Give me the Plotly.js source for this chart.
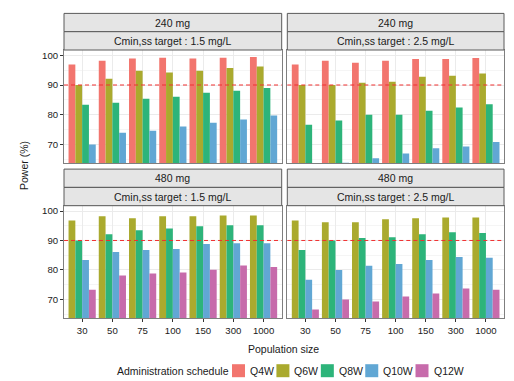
<!DOCTYPE html>
<html>
<head>
<meta charset="utf-8">
<script src="https://cdn.plot.ly/plotly-3.0.1.min.js"></script>
<style>html,body{margin:0;padding:0;background:#fff;}#chart{width:514px;height:381px;}</style>
</head>
<body>
<div id="chart"></div>
<script>
// ---- data ----
const populations = ['30', '50', '75', '100', '150', '300', '1000'];
const schedules = ['Q4W', 'Q6W', 'Q8W', 'Q10W', 'Q12W'];
const doses = ['240 mg', '240 mg', '480 mg', '480 mg'];
const targets = ['Cmin,ss target : 1.5 mg/L', 'Cmin,ss target : 2.5 mg/L', 'Cmin,ss target : 1.5 mg/L', 'Cmin,ss target : 2.5 mg/L'];
const thresholdPower = 90;

// 240 mg, target 1.5 mg/L
const p240_15_Q4W  = [96.9, 98.2, 98.9, 99.2, 98.9, 99.2, 99.4];
const p240_15_Q6W  = [90.0, 92.1, 94.8, 94.2, 94.8, 95.7, 96.2];
const p240_15_Q8W  = [83.3, 84.0, 85.4, 86.0, 87.4, 88.1, 89.0];
const p240_15_Q10W = [69.9, 73.9, 74.6, 76.0, 77.3, 78.4, 79.7];
// 240 mg, target 2.5 mg/L
const p240_25_Q4W  = [96.9, 98.2, 97.5, 98.2, 98.8, 98.8, 99.1];
const p240_25_Q6W  = [90.0, 90.0, 90.8, 91.1, 92.8, 93.1, 93.9];
const p240_25_Q8W  = [76.6, 78.0, 80.0, 80.0, 81.3, 82.4, 83.5];
const p240_25_Q10W = [62.0, 63.8, 65.3, 66.9, 68.7, 69.3, 70.8];
// 480 mg, target 1.5 mg/L
const p480_15_Q6W  = [96.8, 98.2, 97.5, 98.2, 98.2, 98.5, 98.5];
const p480_15_Q8W  = [90.0, 92.1, 93.5, 94.1, 94.8, 95.2, 95.2];
const p480_15_Q10W = [83.4, 86.1, 86.8, 87.1, 88.8, 89.1, 89.1];
const p480_15_Q12W = [73.3, 78.1, 78.8, 79.1, 80.1, 81.5, 81.0];
// 480 mg, target 2.5 mg/L
const p480_25_Q6W  = [96.8, 96.2, 96.2, 97.2, 97.5, 97.8, 97.8];
const p480_25_Q8W  = [86.8, 90.0, 90.8, 91.1, 92.1, 92.8, 92.5];
const p480_25_Q10W = [76.7, 80.0, 81.4, 82.0, 83.4, 84.4, 84.1];
const p480_25_Q12W = [66.6, 70.0, 69.3, 71.0, 72.0, 73.7, 73.3];

const panels = [
  {Q4W: p240_15_Q4W, Q6W: p240_15_Q6W, Q8W: p240_15_Q8W, Q10W: p240_15_Q10W},
  {Q4W: p240_25_Q4W, Q6W: p240_25_Q6W, Q8W: p240_25_Q8W, Q10W: p240_25_Q10W},
  {Q6W: p480_15_Q6W, Q8W: p480_15_Q8W, Q10W: p480_15_Q10W, Q12W: p480_15_Q12W},
  {Q6W: p480_25_Q6W, Q8W: p480_25_Q8W, Q10W: p480_25_Q10W, Q12W: p480_25_Q12W}
];

// ---- styles ----
const schedColors = {Q4W: '#F2756E', Q6W: '#AAAA2E', Q8W: '#2DB47A', Q10W: '#61A7D4', Q12W: '#C76BAB'};
const FONT = '"Liberation Sans", Arial, Helvetica, sans-serif';
const W = 514, H = 381;
const px = x => x / W;
const py = y => 1 - y / H;

// panel boxes in pixels [left, top, right, bottom]
const boxes = [
  [64, 50, 281.7, 163.3],
  [287.3, 50, 504, 163.3],
  [64, 205.7, 281.7, 318.3],
  [287.3, 205.7, 504, 318.3]
];
const stripH = 18.3;

const traces = [];
panels.forEach((p, i) => {
  const n = i + 1;
  schedules.forEach(s => {
    if (!p[s]) return;
    traces.push({
      type: 'bar', x: populations, y: p[s], name: s,
      xaxis: n === 1 ? 'x' : 'x' + n, yaxis: n === 1 ? 'y' : 'y' + n,
      marker: {color: schedColors[s], line: {width: 0}},
      showlegend: false, hoverinfo: 'skip'
    });
  });
});

const layout = {
  width: W, height: H,
  margin: {l: 0, r: 0, t: 0, b: 0},
  paper_bgcolor: '#fff', plot_bgcolor: '#fff',
  barmode: 'group', bargap: 0.1, bargroupgap: 0,
  showlegend: false,
  font: {family: FONT, size: 10.5, color: '#1a1a1a'},
  shapes: [], annotations: []
};

boxes.forEach((b, i) => {
  const n = i + 1;
  const xk = n === 1 ? 'xaxis' : 'xaxis' + n;
  const yk = n === 1 ? 'yaxis' : 'yaxis' + n;
  const isBottom = i >= 2, isLeft = i % 2 === 0;
  layout[xk] = {
    domain: [px(b[0]), px(b[2])],
    anchor: n === 1 ? 'y' : 'y' + n,
    type: 'category', range: [-0.6, 6.6],
    showgrid: true, gridcolor: '#EBEBEB', gridwidth: 1,
    showline: true, mirror: true, linecolor: '#7f7f7f', linewidth: 1,
    ticks: isBottom ? 'outside' : '', ticklen: 3, tickcolor: '#333', tickwidth: 1,
    showticklabels: isBottom,
    tickfont: {family: FONT, size: 9.6, color: '#1a1a1a'},
    zeroline: false, fixedrange: true
  };
  layout[yk] = {
    domain: [py(b[3]), py(b[1])],
    anchor: n === 1 ? 'x' : 'x' + n,
    range: [63.6, 101.8],
    tickvals: [70, 80, 90, 100],
    showgrid: true, gridcolor: '#EBEBEB', gridwidth: 1,
    minor: {dtick: 5, tick0: 0, showgrid: true, gridcolor: '#F5F5F5', gridwidth: 1, ticks: ''},
    showline: true, mirror: true, linecolor: '#7f7f7f', linewidth: 1,
    ticks: isLeft ? 'outside' : '', ticklen: 3, tickcolor: '#333', tickwidth: 1,
    showticklabels: isLeft,
    tickfont: {family: FONT, size: 9.6, color: '#1a1a1a'},
    zeroline: false, fixedrange: true
  };
  // threshold line
  layout.shapes.push({
    type: 'line', xref: (n === 1 ? 'x' : 'x' + n) + ' domain', yref: n === 1 ? 'y' : 'y' + n,
    x0: 0, x1: 1, y0: thresholdPower, y1: thresholdPower,
    line: {color: '#F03030', width: 1, dash: '4px,3px'}, layer: 'above'
  });
  // strips
  const top1 = b[1] - 2 * stripH, top2 = b[1] - stripH;
  [[top1, doses[i]], [top2, targets[i]]].forEach(([t, label]) => {
    layout.shapes.push({
      type: 'rect', xref: 'paper', yref: 'paper',
      x0: px(b[0]), x1: px(b[2]), y0: py(t + stripH), y1: py(t),
      fillcolor: '#E5E5E5', line: {color: '#5a5a5a', width: 1}, layer: 'above'
    });
    layout.annotations.push({
      xref: 'paper', yref: 'paper', x: px((b[0] + b[2]) / 2), y: py(t + stripH / 2),
      text: label, showarrow: false, xanchor: 'center', yanchor: 'middle',
      font: {family: FONT, size: 10.5, color: '#1a1a1a'}
    });
  });
});

// axis titles
layout.annotations.push({
  xref: 'paper', yref: 'paper', x: px(283), y: py(349), text: 'Population size',
  showarrow: false, xanchor: 'center', yanchor: 'middle',
  font: {family: FONT, size: 10.5, color: '#1a1a1a'}
});
layout.annotations.push({
  xref: 'paper', yref: 'paper', x: px(24), y: py(166), text: 'Power (%)', textangle: -90,
  showarrow: false, xanchor: 'center', yanchor: 'middle',
  font: {family: FONT, size: 10.5, color: '#1a1a1a'}
});

// legend (drawn as shapes + text, positions measured from the text)
const ctx = document.createElement('canvas').getContext('2d');
ctx.font = '10.5px "Liberation Sans", Arial, sans-serif';
const legY = 370.7, sw = 13;
layout.annotations.push({
  xref: 'paper', yref: 'paper', x: px(229.5), y: py(legY), text: 'Administration schedule',
  showarrow: false, xanchor: 'right', yanchor: 'middle', borderpad: 0,
  font: {family: FONT, size: 10.5, color: '#1a1a1a'}
});
let cur = 232;
schedules.forEach(s => {
  layout.shapes.push({
    type: 'rect', xref: 'paper', yref: 'paper',
    x0: px(cur), x1: px(cur + sw), y0: py(legY + sw / 2), y1: py(legY - sw / 2),
    fillcolor: schedColors[s], line: {width: 0}
  });
  layout.annotations.push({
    xref: 'paper', yref: 'paper', x: px(cur + 17), y: py(legY), text: s,
    showarrow: false, xanchor: 'left', yanchor: 'middle', borderpad: 0,
    font: {family: FONT, size: 10.5, color: '#1a1a1a'}
  });
  cur += 17 + ctx.measureText(s).width + 3.5;
});

Plotly.newPlot('chart', traces, layout, {staticPlot: true, displayModeBar: false});
</script>
</body>
</html>
